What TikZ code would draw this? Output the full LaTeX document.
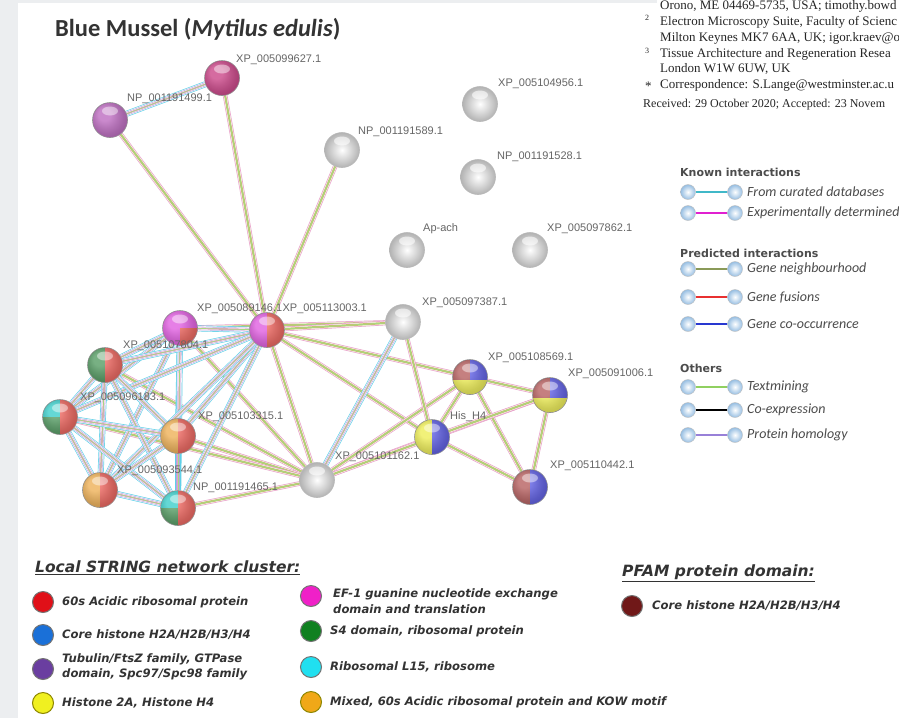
\documentclass[tikz,border=0pt]{standalone}
\usepackage{fontspec}
\setmainfont{Liberation Serif}
\newfontfamily\calib{Carlito}
\newfontfamily\labfont{Liberation Sans}
\newfontfamily\dejavu{DejaVu Sans}
\usetikzlibrary{calc}
\pgfdeclarelayer{back}
\pgfdeclarelayer{edges}
\pgfsetlayers{back,edges,main}
% node colours
\definecolor{cred}{HTML}{EA5048}
\definecolor{cgreen}{HTML}{3E8E4E}
\definecolor{ccyan}{HTML}{22C8C4}
\definecolor{corange}{HTML}{ECA640}
\definecolor{cyellow}{HTML}{ECEC40}
\definecolor{cblue}{HTML}{4848E0}
\definecolor{cbrown}{HTML}{AC4A4A}
\definecolor{cmag}{HTML}{DC48DC}
\definecolor{cdpink}{HTML}{C42C78}
\definecolor{cpurp}{HTML}{B458B8}
% edge colours
\definecolor{ep}{HTML}{E8A0C8}
\definecolor{eo}{HTML}{C8C070}
\definecolor{eg}{HTML}{A8D880}
\definecolor{ec}{HTML}{60D0E8}
\definecolor{el}{HTML}{B0A8E0}
% legend colours
\definecolor{lcur}{HTML}{40B8C8}
\definecolor{lexp}{HTML}{E020D0}
\definecolor{lnei}{HTML}{8A9A58}
\definecolor{lfus}{HTML}{E83030}
\definecolor{lcoo}{HTML}{2838D0}
\definecolor{ltxt}{HTML}{90D060}
\definecolor{lhom}{HTML}{9880D8}
\definecolor{lball}{HTML}{96BEE2}
\definecolor{strip}{HTML}{ECEEF0}
% cluster legend colours
\definecolor{kred}{HTML}{E01018}
\definecolor{kblue}{HTML}{1A70D8}
\definecolor{kpurp}{HTML}{6A3EA0}
\definecolor{kyel}{HTML}{F0F020}
\definecolor{kmag}{HTML}{F020C8}
\definecolor{kgreen}{HTML}{108020}
\definecolor{kcyan}{HTML}{20E0F0}
\definecolor{korange}{HTML}{F0A818}
\definecolor{kbrown}{HTML}{701818}
\newcommand\glossy{%
  \shade[ball color=white, opacity=0.3] (path picture bounding box.center) circle (17pt);
  \fill[white, opacity=0.45] ([yshift=9pt]path picture bounding box.center) ellipse (8pt and 4.5pt);}
\tikzset{
  nb/.style={circle, minimum size=35pt, inner sep=0pt, draw=black!45, line width=0.6pt},
  gb/.style={nb, draw=black!28, shading=radial, inner color=white, outer color=black!30,
     path picture={\fill[white, opacity=0.6] ([yshift=9pt]path picture bounding box.center) ellipse (8pt and 4.5pt);}},
  mono/.style={nb, path picture={\fill[#1] (path picture bounding box.south west) rectangle (path picture bounding box.north east); \glossy}},
  two/.style 2 args={nb, path picture={
     \fill[#1] (path picture bounding box.south west) rectangle (path picture bounding box.north);
     \fill[#2] (path picture bounding box.south) rectangle (path picture bounding box.north east); \glossy}},
  tri/.style n args={3}{nb, path picture={
     \fill[#2] (path picture bounding box.south) rectangle (path picture bounding box.north east);
     \fill[#1] (path picture bounding box.west) rectangle (path picture bounding box.north);
     \fill[#3] (path picture bounding box.south west) rectangle (path picture bounding box.center); \glossy}},
  hist/.style n args={3}{nb, path picture={
     \fill[#1] (path picture bounding box.south west) rectangle (path picture bounding box.north);
     \fill[#2] (path picture bounding box.south) rectangle (path picture bounding box.north east);
     \fill[#3] (path picture bounding box.south west) rectangle ([yshift=-3pt]path picture bounding box.east); \glossy}},
  amix/.style={nb, path picture={
     \fill[cmag] (path picture bounding box.south west) rectangle (path picture bounding box.north east);
     \fill[cred] (path picture bounding box.center) rectangle (path picture bounding box.south east); \glossy}},
  lab/.style={anchor=west, inner sep=0pt, font=\labfont\fontsize{11}{12}\selectfont, text=black!60},
  lk/.style={preaction={draw=ep, line width=4.6pt}, preaction={draw=white, line width=3.2pt},
     preaction={draw=eo, line width=2.2pt}, draw=eg, line width=0.9pt},
  lkc/.style={preaction={draw=ec, line width=6pt}, preaction={draw=white, line width=4.7pt},
     preaction={draw=el, line width=3.6pt}, preaction={draw=white, line width=2.5pt},
     preaction={draw=ep, line width=1.7pt}, draw=eg, line width=0.7pt},
  lb/.style={circle, minimum size=15pt, inner sep=0pt, draw=black!25, line width=0.4pt,
     shading=radial, inner color=white, outer color=lball},
  lline/.style={line width=2.6pt},
  lhead/.style={anchor=west, inner sep=0pt, font=\dejavu\bfseries\fontsize{11}{12}\selectfont, text=black!70},
  litem/.style={anchor=west, inner sep=0pt, font=\calib\itshape\fontsize{14}{15}\selectfont, text=black!70},
  kdot/.style={circle, minimum size=21pt, inner sep=0pt, draw=black!55, line width=1pt},
  kitem/.style={anchor=west, inner sep=0pt, align=left, font=\dejavu\bfseries\itshape\fontsize{11.6}{15.5}\selectfont, text=black!80},
  ktitle/.style={anchor=west, inner sep=0pt, font=\dejavu\bfseries\itshape\fontsize{15.5}{17}\selectfont, text=black!80},
  ptext/.style={anchor=base west, inner sep=0pt, font=\fontsize{13}{14}\selectfont, text=black!85},
  pnum/.style={anchor=base west, inner sep=0pt, font=\fontsize{8}{9}\selectfont, text=black!85}
}
\begin{document}
\begin{tikzpicture}[x=1pt, y=-1pt]
\useasboundingbox (0,0) rectangle (899,718);
\begin{pgfonlayer}{back}
\fill[white] (0,0) rectangle (899,718);
\fill[strip] (0,0) rectangle (18,718);
\fill[strip] (0,0) rectangle (657,3);
\end{pgfonlayer}

% title
\node[anchor=base west, inner sep=0pt, font=\calib\bfseries\fontsize{24.5}{26}\selectfont, text=black!80] (title) at (55,36) {Blue Mussel (\textit{Mytilus edulis})};

% paper text
\node[ptext] (p1) at (660,9) {Orono, ME 04469-5735, USA; timothy.bowd};
\node[pnum] (s2) at (645,20) {2};
\node[ptext] (p2) at (660,25) {Electron Microscopy Suite, Faculty of Scienc};
\node[ptext] (p3) at (660,41) {Milton Keynes MK7 6AA, UK; igor.kraev@o};
\node[pnum] (s3) at (645,53) {3};
\node[ptext] (p4) at (660,57) {Tissue Architecture and Regeneration Resea};
\node[ptext] (p5) at (660,72) {London W1W 6UW, UK};
\node[ptext] (s4) at (645,90) {*};
\node[ptext] (p6) at (660,88) {Correspondence: S.Lange@westminster.ac.u};
\node[ptext, font=\fontsize{12}{13}\selectfont] (p7) at (643,107) {Received: 29 October 2020; Accepted: 23 Novem};

% nodes
\node[mono=cdpink] (n627) at (222,78) {};
\node[mono=cpurp] (n499) at (110,120) {};
\node[gb] (n589) at (342,150) {};
\node[gb] (n956) at (480,104) {};
\node[gb] (n528) at (478,177) {};
\node[gb] (nap) at (407,250) {};
\node[gb] (n862) at (530,250) {};
\node[gb] (n387) at (403,322) {};
\node[amix] (n146) at (180,328) {};
\node[two={cmag}{cred}] (n003) at (267,330) {};
\node[two={cgreen}{cred}] (n804) at (105,365) {};
\node[tri={ccyan}{cred}{cgreen}] (n183) at (60,417) {};
\node[two={corange}{cred}] (n315) at (178,436) {};
\node[two={corange}{cred}] (n544) at (100,490) {};
\node[tri={ccyan}{cred}{cgreen}] (n465) at (178,508) {};
\node[gb] (n162) at (317,480) {};
\node[hist={cbrown}{cblue}{cyellow}] (n569) at (470,377) {};
\node[hist={cbrown}{cblue}{cyellow}] (n006) at (550,395) {};
\node[two={cyellow}{cblue}] (nhis) at (432,437) {};
\node[two={cbrown}{cblue}] (n442) at (530,487) {};

% edges
\begin{pgfonlayer}{edges}
\draw[lkc] (n627) -- (n499);
\foreach \a/\b in {n627/n003, n499/n003, n589/n003, n003/n569, n003/nhis, n003/n162,
  n146/n162, n804/n162, n315/n162, n465/n162, n183/n162, n146/n387,
  n162/n569, n162/nhis, n162/n006, n387/nhis, n003/n387,
  n569/n006, n569/nhis, n569/n442, n006/nhis, n006/n442, nhis/n442}
  \draw[lk] (\a) -- (\b);
\foreach \a/\b in {n146/n003, n146/n804, n146/n183, n146/n315, n146/n544, n146/n465,
  n003/n804, n003/n183, n003/n315, n003/n544, n003/n465,
  n804/n183, n804/n315, n804/n544, n804/n465, n183/n315, n183/n544, n183/n465,
  n315/n544, n315/n465, n544/n465, n162/n387}
  \draw[lkc] (\a) -- (\b);
\end{pgfonlayer}

% node labels
\node[lab] (l627) at (236,60) {XP\_005099627.1};
\node[lab] (l499) at (127,99) {NP\_001191499.1};
\node[lab] (l589) at (358,132) {NP\_001191589.1};
\node[lab] (l956) at (498,84) {XP\_005104956.1};
\node[lab] (l528) at (497,157) {NP\_001191528.1};
\node[lab] (lap) at (423,229) {Ap-ach};
\node[lab] (l862) at (547,229) {XP\_005097862.1};
\node[lab] (l387) at (422,303) {XP\_005097387.1};
\node[lab] (l146) at (197,309) {XP\_005089146.1};
\node[lab, anchor=west] (l003) at (l146.east) {XP\_005113003.1};
\node[lab] (l804) at (123,346) {XP\_005107804.1};
\node[lab] (l183) at (80,398) {XP\_005096183.1};
\node[lab] (l315) at (198,417) {XP\_005103315.1};
\node[lab] (l544) at (117,471) {XP\_005093544.1};
\node[lab] (l465) at (193,488) {NP\_001191465.1};
\node[lab] (l162) at (335,457) {XP\_005101162.1};
\node[lab] (l569) at (488,358) {XP\_005108569.1};
\node[lab] (l006) at (568,374) {XP\_005091006.1};
\node[lab] (lhis) at (450,417) {His\_H4};
\node[lab] (l442) at (550,466) {XP\_005110442.1};

% interaction legend
\node[lhead] (hk) at (680,172) {Known interactions};
\node[lb] (a1) at (688,192) {}; \node[lb] (b1) at (735,192) {};
\draw[lline, lcur] (a1) -- (b1);
\node[litem] (t1) at (747,192) {From curated databases};
\node[lb] (a2) at (688,213) {}; \node[lb] (b2) at (735,213) {};
\draw[lline, lexp] (a2) -- (b2);
\node[litem] (t2) at (747,213) {Experimentally determined};
\node[lhead] (hp) at (680,253) {Predicted interactions};
\node[lb] (a3) at (688,269) {}; \node[lb] (b3) at (735,269) {};
\draw[lline, lnei] (a3) -- (b3);
\node[litem] (t3) at (747,269) {Gene neighbourhood};
\node[lb] (a4) at (688,297) {}; \node[lb] (b4) at (735,297) {};
\draw[lline, lfus] (a4) -- (b4);
\node[litem] (t4) at (747,297) {Gene fusions};
\node[lb] (a5) at (688,324) {}; \node[lb] (b5) at (735,324) {};
\draw[lline, lcoo] (a5) -- (b5);
\node[litem] (t5) at (747,324) {Gene co-occurrence};
\node[lhead] (ho) at (680,368) {Others};
\node[lb] (a6) at (688,387) {}; \node[lb] (b6) at (735,387) {};
\draw[lline, ltxt] (a6) -- (b6);
\node[litem] (t6) at (747,387) {Textmining};
\node[lb] (a7) at (688,410) {}; \node[lb] (b7) at (735,410) {};
\draw[lline, black] (a7) -- (b7);
\node[litem] (t7) at (747,410) {Co-expression};
\node[lb] (a8) at (688,435) {}; \node[lb] (b8) at (735,435) {};
\draw[lline, lhom] (a8) -- (b8);
\node[litem] (t8) at (747,435) {Protein homology};

% cluster legend
\node[ktitle] (kt) at (35,568) {\underline{Local STRING network cluster:}};
\node[kdot, fill=kred] (k1) at (43,602) {};
\node[kitem] (kt1) at (62,602) {60s Acidic ribosomal protein};
\node[kdot, fill=kblue] (k2) at (43,635) {};
\node[kitem] (kt2) at (62,635) {Core histone H2A/H2B/H3/H4};
\node[kdot, fill=kpurp] (k3) at (43,669) {};
\node[kitem] (kt3) at (62,667) {Tubulin/FtsZ family, GTPase\\domain, Spc97/Spc98 family};
\node[kdot, fill=kyel, draw=olive] (k4) at (43,703) {};
\node[kitem] (kt4) at (62,703) {Histone 2A, Histone H4};
\node[kdot, fill=kmag] (k5) at (311,596) {};
\node[kitem] (kt5) at (333,601) {EF-1 guanine nucleotide exchange\\domain and translation};
\node[kdot, fill=kgreen] (k6) at (311,631) {};
\node[kitem] (kt6) at (330,631) {S4 domain, ribosomal protein};
\node[kdot, fill=kcyan] (k7) at (311,667) {};
\node[kitem] (kt7) at (330,667) {Ribosomal L15, ribosome};
\node[kdot, fill=korange, draw=olive] (k8) at (311,702) {};
\node[kitem] (kt8) at (330,702) {Mixed, 60s Acidic ribosomal protein and KOW motif};
\node[ktitle] (pt) at (622,573) {\underline{PFAM protein domain:}};
\node[kdot, fill=kbrown] (k9) at (632,606) {};
\node[kitem] (kt9) at (652,606) {Core histone H2A/H2B/H3/H4};
\end{tikzpicture}
\end{document}
